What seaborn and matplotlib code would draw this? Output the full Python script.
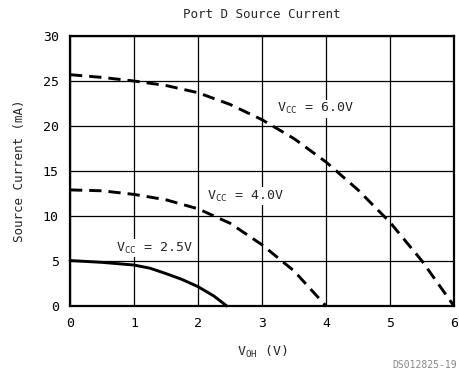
import matplotlib
matplotlib.use("Agg")
import matplotlib.pyplot as plt
import seaborn as sns
import pandas as pd

# Data
v_60 = [0, 0.5, 1, 1.5, 2, 2.5, 3, 3.5, 4, 4.5, 5, 5.5, 6]
i_60 = [25.7, 25.4, 25.0, 24.5, 23.7, 22.4, 20.7, 18.6, 16.0, 12.9, 9.3, 5.0, 0.0]
v_40 = [0, 0.5, 1, 1.5, 2, 2.5, 3, 3.5, 4]
i_40 = [12.9, 12.8, 12.4, 11.8, 10.8, 9.2, 6.8, 3.9, 0.0]
v_25 = [0, 0.5, 1, 1.25, 1.5, 1.75, 2, 2.25, 2.45]
i_25 = [5.05, 4.85, 4.55, 4.2, 3.6, 2.95, 2.15, 1.1, 0.0]

x_ticks = [0, 1, 2, 3, 4, 5, 6]
y_ticks = [0, 5, 10, 15, 20, 25, 30]

sns.set_style("white")
plt.rcParams['font.family'] = ['DejaVu Sans Mono', 'DejaVu Sans']

fig = plt.figure(figsize=(4.59, 3.71), dpi=100)
ax = fig.add_axes([70/459, 1 - 306/371, 384/459, 270/371])

df60 = pd.DataFrame({"V": v_60, "I": i_60})
df40 = pd.DataFrame({"V": v_40, "I": i_40})
df25 = pd.DataFrame({"V": v_25, "I": i_25})

lw = 2.1
sns.lineplot(data=df60, x="V", y="I", ax=ax, color="black", lw=lw, sort=False)
sns.lineplot(data=df40, x="V", y="I", ax=ax, color="black", lw=lw, sort=False)
sns.lineplot(data=df25, x="V", y="I", ax=ax, color="black", lw=lw, sort=False)
lines = ax.get_lines()
for ln in lines[:2]:
    ln.set_dashes((4.2, 2.4))
    ln.set_dash_capstyle("butt")
for ln in lines:
    ln.set_clip_on(False)
    ln.set_zorder(5)

ax.set_xlim(0, 6)
ax.set_ylim(0, 30)
ax.set_xticks(x_ticks)
ax.set_yticks(y_ticks)
ax.grid(True, color="black", lw=0.9)
ax.tick_params(length=0, labelsize=9.5, pad=8, colors="black")
for s in ax.spines.values():
    s.set_visible(True)
    s.set_color("black")
    s.set_linewidth(1.6)

ax.set_xlabel(r"V$_{\mathregular{OH}}$ (V)", fontsize=9.5, labelpad=10)
ax.set_ylabel("Source Current (mA)", fontsize=9, labelpad=12)
fig.text(262/459, 1 - 15/371, "Port D Source Current", ha="center", va="center", fontsize=9)

ax.text(3.23, 21.9, r"V$_{\mathregular{CC}}$ = 6.0V", fontsize=9.5, va="center", ha="left",
        bbox=dict(facecolor="white", edgecolor="none", pad=1))
ax.text(2.14, 12.2, r"V$_{\mathregular{CC}}$ = 4.0V", fontsize=9.5, va="center", ha="left",
        bbox=dict(facecolor="white", edgecolor="none", pad=1))
ax.text(0.72, 6.4, r"V$_{\mathregular{CC}}$ = 2.5V", fontsize=9.5, va="center", ha="left",
        bbox=dict(facecolor="white", edgecolor="none", pad=1))

fig.text(392/459, 1/371, "DS012825-19", ha="left", va="bottom", fontsize=7, color="#888888")

fig.savefig("out.png", dpi=100)
